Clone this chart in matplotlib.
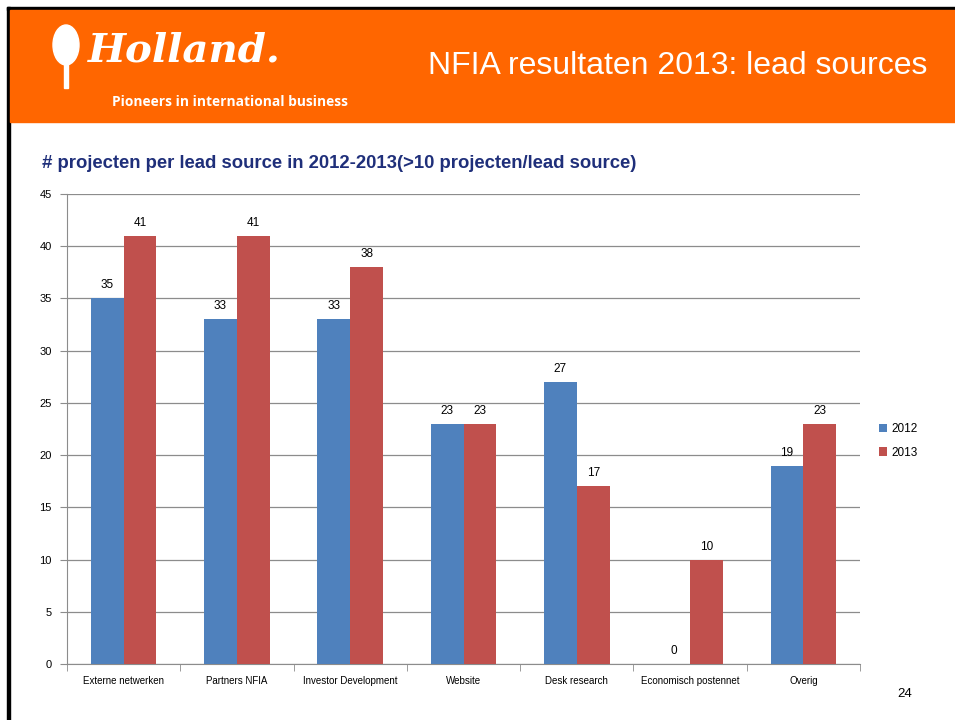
import matplotlib.pyplot as plt
import matplotlib.patches as mpatches
import numpy as np

# data
categories = ['Externe netwerken', 'Partners NFIA', 'Investor Development', 'Website',
              'Desk research', 'Economisch postennet', 'Overig']
vals_2012 = [35, 33, 33, 23, 27, 0, 19]
vals_2013 = [41, 41, 38, 23, 17, 10, 23]
series_names = ['2012', '2013']
y_ticks = [0, 5, 10, 15, 20, 25, 30, 35, 40, 45]

blue = '#4F81BD'
red = '#C0504D'
orange = '#FF6600'
navy = '#1F2F7A'

plt.rcParams['font.family'] = ['Liberation Sans', 'DejaVu Sans']

fig = plt.figure(figsize=(9.55, 7.2), dpi=100)
W, H = 955, 720

def fx(px):
    return px / W

def fy(py):
    return 1 - py / H

# slide frame: black border top/left, orange banner
fig.patches.append(mpatches.Rectangle((fx(7), fy(10)), 1, 3 / H, transform=fig.transFigure,
                                      color='black', zorder=0))
fig.patches.append(mpatches.Rectangle((fx(7), 0), 3 / W, fy(7), transform=fig.transFigure,
                                      color='black', zorder=0))
fig.patches.append(mpatches.Rectangle((fx(10), fy(122)), 1, 112 / H, transform=fig.transFigure,
                                      color=orange, zorder=0))

# logo (rough tulip + wordmark)
fig.patches.append(mpatches.Ellipse((fx(66), fy(45)), 26 / W, 40 / H, transform=fig.transFigure,
                                    color='white', zorder=1))
fig.patches.append(mpatches.Rectangle((fx(64), fy(88)), 4 / W, 24 / H, transform=fig.transFigure,
                                      color='white', zorder=1))
fig.text(fx(88), fy(50), 'Holland.', color='white', fontsize=29, fontweight='bold',
         fontstyle='italic', va='center', ha='left', family=['DejaVu Serif'])
fig.text(fx(112), fy(102), 'Pioneers in international business', color='white', fontsize=9.9,
         fontweight='bold', va='center', ha='left', family=['Open Sans', 'DejaVu Sans'])

fig.text(fx(927), fy(66), 'NFIA resultaten 2013: lead sources', color='white', fontsize=23,
         ha='right', va='center')

fig.text(fx(42), fy(164), '# projecten per lead source in 2012-2013(>10 projecten/lead source)',
         color=navy, fontsize=13.3, fontweight='bold', ha='left', va='center')

fig.text(fx(905), fy(694), '24', fontsize=9.5, ha='center', va='center')

# chart
ax = fig.add_axes([fx(67), fy(664), fx(860) - fx(67), (664 - 194) / H])
x = np.arange(len(categories))
bw = 0.29
b1 = ax.bar(x - bw / 2, vals_2012, bw, color=blue, label=series_names[0], zorder=3)
b2 = ax.bar(x + bw / 2, vals_2013, bw, color=red, label=series_names[1], zorder=3)

for bars in (b1, b2):
    for rect in bars:
        h = rect.get_height()
        ax.annotate(f'{h:g}', (rect.get_x() + rect.get_width() / 2, h), xytext=(0, 5),
                    textcoords='offset points', ha='center', va='bottom', fontsize=8.5,
                    family=['Liberation Sans Narrow', 'Liberation Sans'])

ax.set_xlim(-0.5, len(categories) - 0.5)
ax.set_ylim(0, 45)
ax.set_yticks(y_ticks)
ax.yaxis.grid(True, color='#8C8C8C', linewidth=0.9, zorder=0)
ax.set_axisbelow(True)

ax.set_xticks(x)
ax.set_xticklabels(categories, fontsize=7, family=['Liberation Sans Narrow', 'Liberation Sans'])
ax.set_xticks(np.arange(-0.5, len(categories)), minor=True)
ax.tick_params(axis='x', which='major', length=0, pad=9)
ax.tick_params(axis='x', which='minor', length=5, color='#8C8C8C')
ax.tick_params(axis='y', length=5, color='#8C8C8C', labelsize=8, pad=6)

for s in ['top', 'right']:
    ax.spines[s].set_visible(False)
ax.spines['left'].set_color('#8C8C8C')
ax.spines['bottom'].set_color('#8C8C8C')

ax.legend(loc='center left', bbox_to_anchor=(1.01, 0.475), frameon=False, fontsize=8.5,
          handlelength=0.7, handleheight=0.7, handletextpad=0.4, labelspacing=1.0)

fig.savefig('out.png', dpi=100)
